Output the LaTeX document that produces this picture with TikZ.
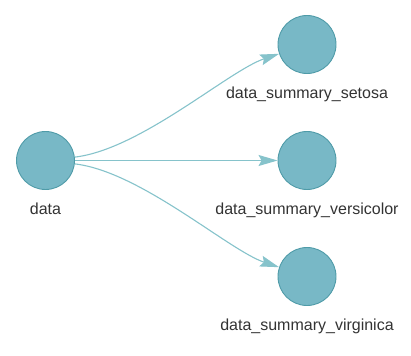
\documentclass[tikz,border=0pt]{standalone}
\usepackage{fontspec}
\setmainfont{Liberation Sans}
\usetikzlibrary{arrows.meta, positioning}

\definecolor{nodefill}{HTML}{78B8C6}
\definecolor{nodeline}{HTML}{4F9BA8}
\definecolor{edgecol}{HTML}{86C3CB}
\definecolor{textcol}{HTML}{333333}

\tikzset{
    target/.style={circle, draw=nodeline, fill=nodefill, line width=0.9pt,
        minimum size=58pt, inner sep=0pt},
    lbl/.style={text=textcol, font=\fontsize{16}{19}\selectfont},
    edge/.style={draw=edgecol, line width=1.1pt,
        -{Stealth[length=19pt, width=11pt, inset=3pt]}}
}

\begin{document}
\begin{tikzpicture}[x=1pt, y=-1pt]
    \useasboundingbox (0,0) rectangle (411,355);

    % Knoten
    \node[target, label={[lbl, label distance=9pt]below:data}] (data) at (45.5,160.5) {};
    \node[target, label={[lbl, label distance=9pt]below:data\_summary\_setosa}] (setosa) at (307,44.5) {};
    \node[target, label={[lbl, label distance=9pt]below:data\_summary\_versicolor}] (versicolor) at (307,160.5) {};
    \node[target, label={[lbl, label distance=9pt]below:data\_summary\_virginica}] (virginica) at (307,276.5) {};

    % Kanten
    \draw[edge] (data) .. controls +(95,-11) and +(-78,26) .. (setosa);
    \draw[edge] (data) -- (versicolor);
    \draw[edge] (data) .. controls +(95,11) and +(-78,-26) .. (virginica);
\end{tikzpicture}
\end{document}
